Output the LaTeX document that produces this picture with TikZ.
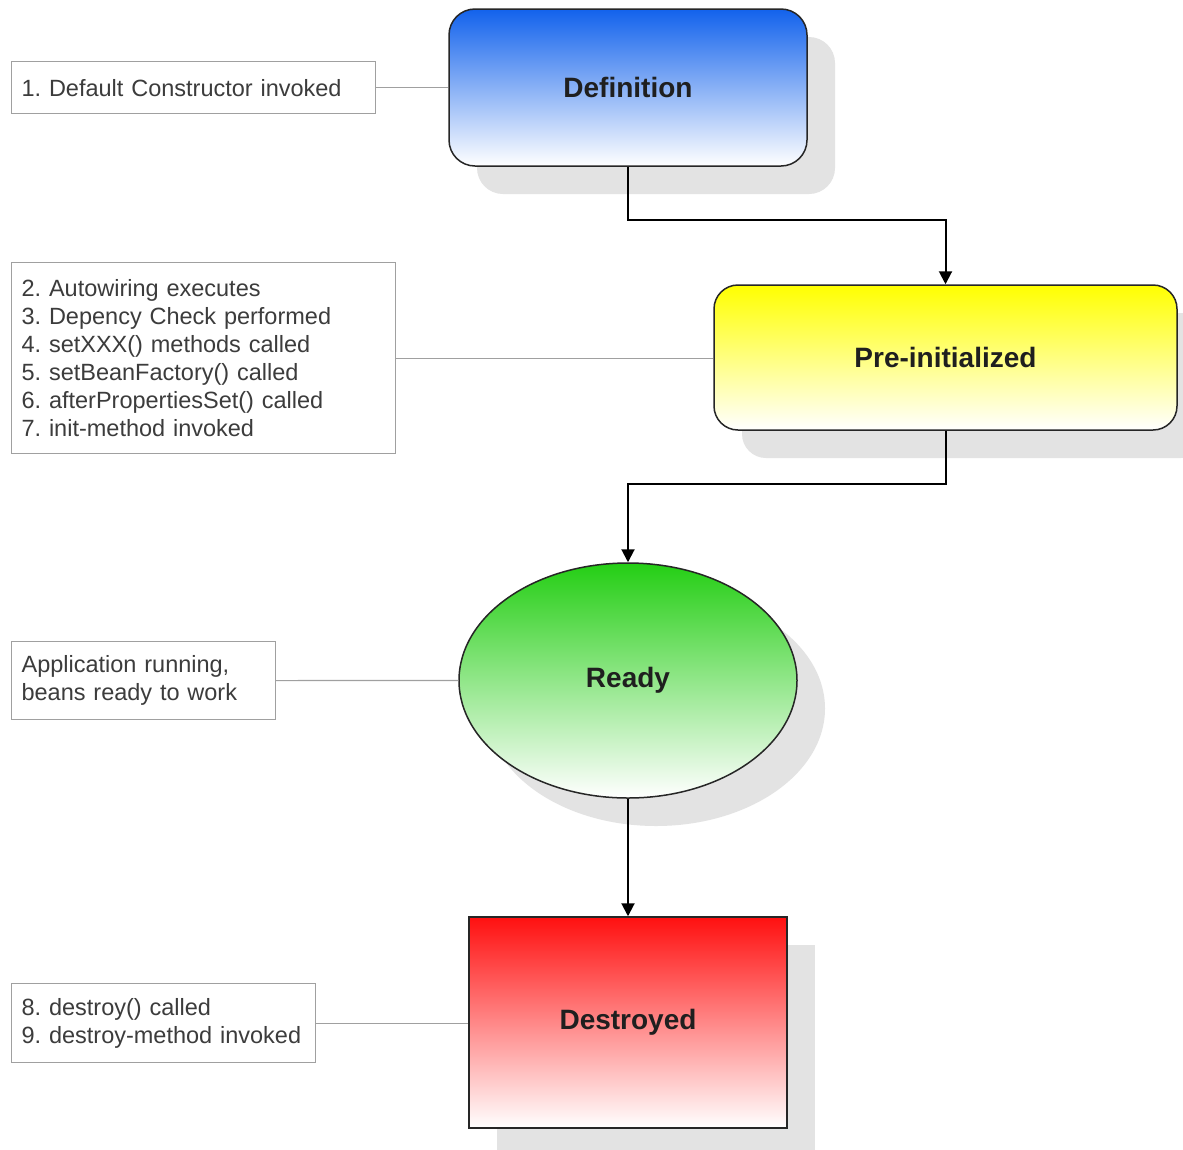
\documentclass[tikz,border=0pt]{standalone}
\usepackage{fontspec}
\setmainfont{Liberation Sans}
\frenchspacing
\usetikzlibrary{arrows.meta,shapes.geometric,shadows}
\definecolor{shadowgray}{RGB}{227,227,227}
\definecolor{notetext}{RGB}{60,60,60}
\definecolor{noteline}{RGB}{160,160,160}
\definecolor{bluetop}{RGB}{18,98,236}
\definecolor{yellowtop}{RGB}{255,255,0}
\definecolor{greentop}{RGB}{36,206,20}
\definecolor{redtop}{RGB}{255,16,16}
\tikzset{
  state/.style={draw=black!85, line width=1.5pt, text=black!88,
    font=\fontsize{28}{32}\selectfont\bfseries, inner sep=0pt,
    general shadow={fill=shadowgray, draw=none, shadow xshift=28pt, shadow yshift=-28pt}},
  note/.style={draw=noteline, line width=1.2pt, fill=white, text=notetext,
    font=\fontsize{23.5}{28}\selectfont, align=left, anchor=north west,
    inner xsep=10pt, inner ysep=0pt},
  link/.style={draw=noteline, line width=1.2pt},
  flow/.style={draw=black, line width=2pt, -{Triangle[width=13pt,length=13pt]}}
}
\begin{document}
\begin{tikzpicture}[x=1pt,y=-1pt]
\useasboundingbox[fill=white] (0,0) rectangle (1183,1149);
% states
\node[state, rounded corners=26pt, top color=bluetop, bottom color=white,
  minimum width=358pt, minimum height=157pt] (def) at (628,87.5) {Definition};
\node[state, rounded corners=24pt, top color=yellowtop, bottom color=white,
  minimum width=463pt, minimum height=145pt] (pre) at (945.5,357.5) {Pre-initialized};
\node[state, ellipse, top color=greentop, bottom color=white,
  minimum width=338pt, minimum height=235pt] (ready) at (628,680.5) {Ready};
\node[state, top color=redtop, bottom color=white,
  minimum width=318pt, minimum height=211pt] (dest) at (628,1022.5) {Destroyed};
% notes
\node[note, text width=344pt, minimum height=52pt] (n1) at (11,61) {1. Default Constructor invoked};
\node[note, text width=364pt, minimum height=191pt] (n2) at (11,262) {2. Autowiring executes\\3. Depency Check performed\\4. setXXX() methods called\\5. setBeanFactory() called\\6. afterPropertiesSet() called\\7. init-method invoked\\[2pt]};
\node[note, text width=244pt, minimum height=78pt] (n3) at (11,641) {Application running,\\beans ready to work};
\node[note, text width=284pt, minimum height=79pt] (n4) at (11,983) {8. destroy() called\\9. destroy-method invoked};
% note links
\draw[link] (n1.east) -- (n1.east -| def.west);
\draw[link] (n2.east) -- (n2.east -| pre.west);
\draw[link] (n3.east) -- (ready.west);
\draw[link] (n4.east) -- (n4.east -| dest.west);
% flow
\draw[flow] (def.south) -- ++(0,53) -| (pre.north);
\draw[flow] (pre.south) -- ++(0,53) -| (ready.north);
\draw[flow] (ready.south) -- (dest.north);
\end{tikzpicture}
\end{document}
